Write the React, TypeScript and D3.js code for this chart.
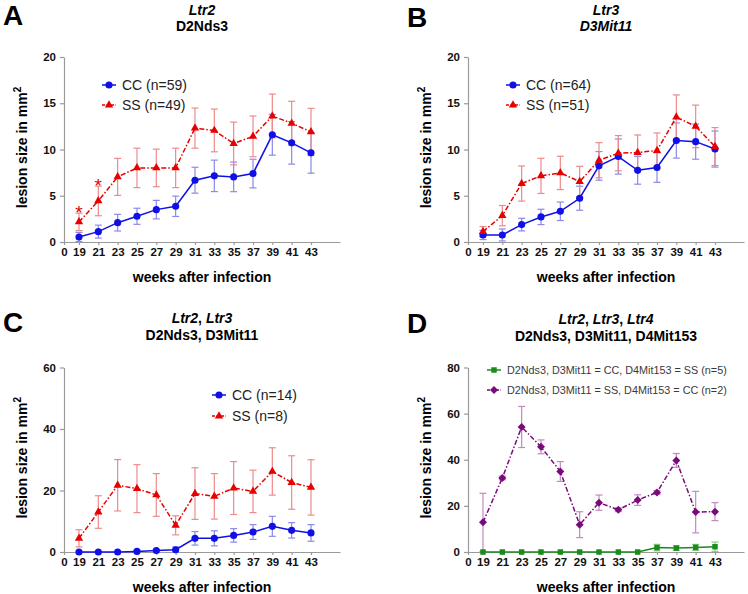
import React, { useRef, useEffect } from 'react';
import * as d3 from 'd3';

// weeks after infection (x categories)
const weeks = [19, 21, 23, 25, 27, 29, 31, 33, 35, 37, 39, 41, 43];

// panel A - Ltr2 / D2Nds3
const ccA = [0.54, 1.12, 2.09, 2.78, 3.5, 3.86, 6.68, 7.15, 7.04, 7.4, 11.59, 10.72, 9.64];
const ccAErr = [0.5, 0.7, 0.9, 0.87, 1.0, 1.1, 1.4, 1.7, 1.6, 1.55, 2.2, 2.3, 2.2];
const ssA = [2.17, 4.44, 7.04, 8.01, 8.01, 8.01, 12.31, 12.06, 10.65, 11.42, 13.62, 12.84, 11.9];
const ssAErr = [0.94, 1.6, 2.0, 2.13, 2.03, 2.13, 2.17, 2.31, 2.31, 2.2, 2.37, 2.37, 2.55];
const sigWeeksA = [19, 21];

// panel B - Ltr3 / D3Mit11
const ccB = [0.76, 0.76, 1.88, 2.71, 3.32, 4.73, 8.23, 9.24, 7.75, 8.05, 10.97, 10.85, 10.05];
const ccBErr = [0.5, 0.65, 0.68, 0.83, 1.0, 1.3, 1.55, 1.9, 1.5, 1.6, 1.9, 1.9, 1.95];
const ssB = [1.12, 2.85, 6.32, 7.15, 7.47, 6.53, 8.84, 9.6, 9.67, 9.89, 13.5, 12.5, 10.32];
const ssBErr = [0.55, 1.1, 1.9, 1.9, 1.8, 1.65, 1.9, 1.9, 1.9, 1.9, 2.4, 2.3, 2.05];

// panel C - Ltr2, Ltr3
const ccC = [0, 0, 0, 0.2, 0.5, 0.75, 4.45, 4.45, 5.4, 6.5, 8.35, 7.05, 6.2];
const ccCErr = [0, 0, 0, 0.2, 0.3, 0.9, 2.2, 2.45, 2.2, 2.4, 3.25, 2.5, 2.7];
const ssC = [4.45, 13.0, 21.7, 20.6, 18.55, 8.68, 19.0, 18.1, 20.8, 19.7, 26.2, 22.6, 21.0];
const ssCErr = [2.8, 5.3, 8.35, 7.8, 6.95, 3.1, 8.4, 7.4, 8.6, 6.9, 7.7, 8.7, 9.0];

// panel D - Ltr2, Ltr3, Ltr4
const greenD = [0, 0, 0, 0, 0, 0, 0, 0, 0, 1.9, 1.7, 2.0, 2.3];
const greenDErr = [0, 0, 0, 0, 0, 0, 0, 0, 0, 1.4, 1.0, 1.3, 2.0];
const purpleD = [12.85, 32.1, 54.2, 45.6, 34.9, 11.85, 21.4, 18.3, 22.5, 25.85, 39.7, 17.3, 17.5];
const purpleDErr = [12.6, 0.8, 8.9, 3.0, 4.3, 5.6, 3.3, 0.8, 2.3, 0.8, 3.0, 9.0, 3.9];

const ticksA = [0, 5, 10, 15, 20];
const ticksC = [0, 20, 40, 60];
const ticksD = [0, 20, 40, 60, 80];

const FONT = 'Arial, "Liberation Sans", Helvetica, sans-serif';

const BLUE = { line: '#1010e6', err: '#8a8ae8', symbol: d3.symbolCircle, size: 40, rot: 0, dash: null };
const RED = { line: '#e60000', err: '#ee8a8a', symbol: d3.symbolTriangle, size: 30, rot: 0, dash: '5,2,1.5,2' };
const GREEN = { line: '#1a8c1a', err: '#8cc88c', symbol: d3.symbolSquare, size: 30, rot: 0, dash: null };
// diamond = square turned 45 degrees
const PURPLE = { line: '#7a0a7a', err: '#c08ac0', symbol: d3.symbolSquare, size: 32, rot: 45, dash: '5,2,1.5,2' };

const panels = [
  {
    letter: 'A', lx: 3, ly: 25, left: 64, top: 57, bottom: 242, yMax: 20, ticks: ticksA,
    title1: [{ t: 'Ltr2', i: true }], title2: [{ t: 'D2Nds3', i: false }], t1y: 15, t2y: 31,
    legend: { x: 102, y: 85, gap: 20, size: 14, color: '#222' },
    series: [
      { name: 'CC (n=59)', v: ccA, e: ccAErr, s: BLUE },
      { name: 'SS (n=49)', v: ssA, e: ssAErr, s: RED },
    ],
    stars: sigWeeksA, starSeries: 1,
  },
  {
    letter: 'B', lx: 407, ly: 26.5, left: 468, top: 57, bottom: 242, yMax: 20, ticks: ticksA,
    title1: [{ t: 'Ltr3', i: true }], title2: [{ t: 'D3Mit11', i: true }], t1y: 15, t2y: 31,
    legend: { x: 506, y: 85, gap: 20, size: 14, color: '#222' },
    series: [
      { name: 'CC (n=64)', v: ccB, e: ccBErr, s: BLUE },
      { name: 'SS (n=51)', v: ssB, e: ssBErr, s: RED },
    ],
  },
  {
    letter: 'C', lx: 3, ly: 332, left: 64, top: 367.5, bottom: 552, yMax: 60, ticks: ticksC,
    title1: [{ t: 'Ltr2', i: true }, { t: ', ', i: false }, { t: 'Ltr3', i: true }],
    title2: [{ t: 'D2Nds3, D3Mit11', i: false }], t1y: 323, t2y: 340,
    legend: { x: 212, y: 395, gap: 21, size: 14, color: '#222' },
    series: [
      { name: 'CC (n=14)', v: ccC, e: ccCErr, s: BLUE },
      { name: 'SS (n=8)', v: ssC, e: ssCErr, s: RED },
    ],
  },
  {
    letter: 'D', lx: 407, ly: 333, left: 468, top: 367.5, bottom: 552, yMax: 80, ticks: ticksD,
    title1: [{ t: 'Ltr2', i: true }, { t: ', ', i: false }, { t: 'Ltr3', i: true }, { t: ', ', i: false }, { t: 'Ltr4', i: true }],
    title2: [{ t: 'D2Nds3, D3Mit11, D4Mit153', i: false }], t1y: 324, t2y: 341,
    legend: { x: 487, y: 370, gap: 20, size: 10.8, color: '#3a3a3a' },
    series: [
      { name: 'D2Nds3, D3Mit11 = CC, D4Mit153 = SS (n=5)', v: greenD, e: greenDErr, s: GREEN },
      { name: 'D2Nds3, D3Mit11 = SS, D4Mit153 = CC (n=2)', v: purpleD, e: purpleDErr, s: PURPLE },
    ],
  },
];

const X_START = 17.45;
const X_END = 46;
const PLOT_W = 276;

const Chart = () => {
  const ref = useRef();

  useEffect(() => {
    const svg = d3.select(ref.current);
    svg.selectAll('*').remove();

    panels.forEach((p) => {
      const g = svg.append('g');
      const x = d3.scaleLinear().domain([X_START, X_END]).range([p.left, p.left + PLOT_W]);
      const y = d3.scaleLinear().domain([0, p.yMax]).range([p.bottom, p.top]);
      const cx = p.left + 138;

      // panel letter
      g.append('text')
        .attr('x', p.lx).attr('y', p.ly)
        .attr('font-family', FONT).attr('font-weight', 'bold').attr('font-size', 28)
        .text(p.letter);

      // titles
      const addTitle = (parts, ty) => {
        const t = g.append('text')
          .attr('x', cx).attr('y', ty).attr('text-anchor', 'middle')
          .attr('font-family', FONT).attr('font-weight', 'bold').attr('font-size', 14);
        parts.forEach((pt) => t.append('tspan').attr('font-style', pt.i ? 'italic' : 'normal').text(pt.t));
      };
      addTitle(p.title1, p.t1y);
      addTitle(p.title2, p.t2y);

      // y axis
      const yAxis = g.append('g')
        .attr('transform', `translate(${p.left},0)`)
        .call(d3.axisLeft(y).tickValues(p.ticks).tickSize(4).tickPadding(4).tickSizeOuter(0));
      // x axis
      const xAxis = g.append('g')
        .attr('transform', `translate(0,${p.bottom})`)
        .call(
          d3.axisBottom(x)
            .tickValues([X_START, ...weeks])
            .tickFormat((d) => (d === X_START ? '0' : String(d)))
            .tickSize(3).tickPadding(3).tickSizeOuter(0)
        );
      [yAxis, xAxis].forEach((a) => {
        a.select('.domain').attr('stroke', '#9a9a9a').attr('stroke-width', 1.2);
        a.selectAll('.tick line').attr('stroke', '#9a9a9a').attr('stroke-width', 1.2);
        a.selectAll('.tick text')
          .attr('font-family', FONT).attr('font-weight', 'bold').attr('font-size', 11.5).attr('fill', '#111');
      });

      // axis labels
      g.append('text')
        .attr('x', cx).attr('y', p.bottom + 40).attr('text-anchor', 'middle')
        .attr('font-family', FONT).attr('font-weight', 'bold').attr('font-size', 14)
        .text('weeks after infection');
      const yl = g.append('text')
        .attr('transform', `translate(${p.left - 37},${(p.top + p.bottom) / 2 - 2}) rotate(-90)`)
        .attr('text-anchor', 'middle')
        .attr('font-family', FONT).attr('font-weight', 'bold').attr('font-size', 14);
      yl.append('tspan').text('lesion size in mm');
      yl.append('tspan').attr('font-size', 10).attr('dy', -6).text('2');

      // error bars
      p.series.forEach((sr) => {
        const eg = g.append('g').attr('stroke', sr.s.err).attr('stroke-width', 1.2).attr('fill', 'none');
        weeks.forEach((w, i) => {
          const err = sr.e[i];
          if (!err) return;
          const xi = x(w);
          const y1 = y(Math.max(0, sr.v[i] - err));
          const y2 = y(sr.v[i] + err);
          eg.append('line').attr('x1', xi).attr('x2', xi).attr('y1', y1).attr('y2', y2);
          eg.append('line').attr('x1', xi - 3.5).attr('x2', xi + 3.5).attr('y1', y1).attr('y2', y1);
          eg.append('line').attr('x1', xi - 3.5).attr('x2', xi + 3.5).attr('y1', y2).attr('y2', y2);
        });
      });

      // lines and markers
      p.series.forEach((sr) => {
        const line = d3.line().x((d) => x(d[0])).y((d) => y(d[1]));
        g.append('path')
          .datum(weeks.map((w, i) => [w, sr.v[i]]))
          .attr('d', line)
          .attr('fill', 'none')
          .attr('stroke', sr.s.line)
          .attr('stroke-width', 1.5)
          .attr('stroke-dasharray', sr.s.dash);
        g.append('g')
          .selectAll('path')
          .data(weeks.map((w, i) => [w, sr.v[i]]))
          .join('path')
          .attr('transform', (d) => `translate(${x(d[0])},${y(d[1])}) rotate(${sr.s.rot})`)
          .attr('d', d3.symbol().type(sr.s.symbol).size(sr.s.size))
          .attr('fill', sr.s.line);
      });

      // significance stars
      if (p.stars) {
        const sr = p.series[p.starSeries];
        p.stars.forEach((w) => {
          const i = weeks.indexOf(w);
          g.append('text')
            .attr('x', x(w)).attr('y', y(sr.v[i] + sr.e[i]) + 6)
            .attr('text-anchor', 'middle')
            .attr('font-family', FONT).attr('font-size', 19).attr('fill', RED.line)
            .text('*');
        });
      }

      // legend
      p.series.forEach((sr, k) => {
        const ly = p.legend.y + k * p.legend.gap;
        const lg = g.append('g');
        lg.append('line')
          .attr('x1', p.legend.x).attr('x2', p.legend.x + 14).attr('y1', ly).attr('y2', ly)
          .attr('stroke', sr.s.line).attr('stroke-width', 1.5).attr('stroke-dasharray', sr.s.dash ? '3,1.5' : null);
        lg.append('path')
          .attr('transform', `translate(${p.legend.x + 7},${ly}) rotate(${sr.s.rot})`)
          .attr('d', d3.symbol().type(sr.s.symbol).size(sr.s.size))
          .attr('fill', sr.s.line);
        lg.append('text')
          .attr('x', p.legend.x + 20).attr('y', ly + p.legend.size * 0.36)
          .attr('font-family', FONT).attr('font-size', p.legend.size).attr('fill', p.legend.color)
          .text(sr.name);
      });
    });
  }, []);

  return <svg ref={ref} width={748} height={594} style={{ display: 'block', background: '#fff' }} />;
};

export default function App() {
  return (
    <div style={{ position: 'absolute', left: 0, top: 0 }}>
      <Chart />
    </div>
  );
}
